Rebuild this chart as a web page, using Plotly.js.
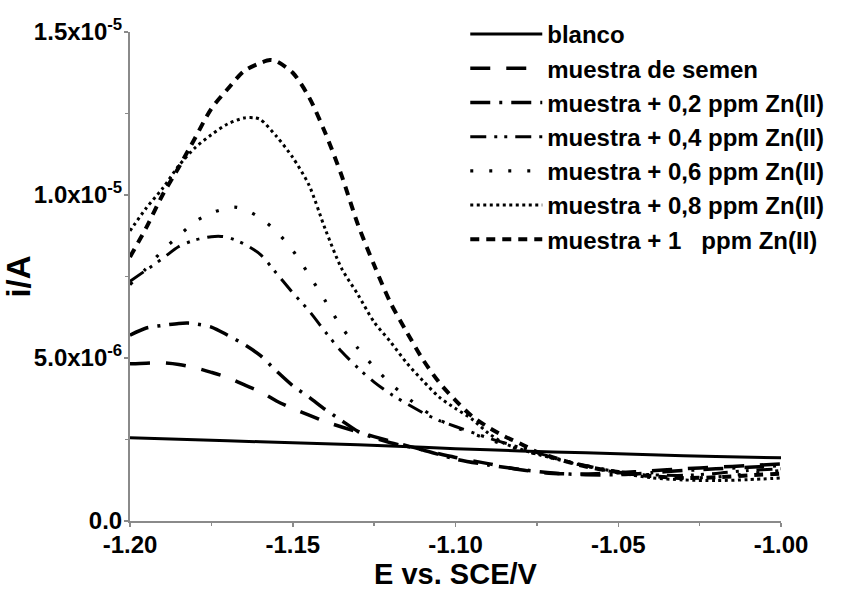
<!DOCTYPE html>
<html>
<head>
<meta charset="utf-8">
<script src="https://cdn.plot.ly/plotly-3.0.1.min.js"></script>
<style>html,body{margin:0;padding:0;background:#fff}#chart{width:844px;height:592px}</style>
</head>
<body>
<div id="chart"></div>
<script>
// ---- data ----
const seriesNames = ["blanco", "muestra de semen", "muestra + 0,2 ppm Zn(II)", "muestra + 0,4 ppm Zn(II)",
  "muestra + 0,6 ppm Zn(II)", "muestra + 0,8 ppm Zn(II)", "muestra + 1&#160;&#160;&#160;ppm Zn(II)"];

const xBlanco = [-1.200, -1.180, -1.160, -1.140, -1.120, -1.100, -1.080, -1.060, -1.040, -1.020, -1.000];
const yBlanco = [2.55e-6, 2.49e-6, 2.43e-6, 2.37e-6, 2.30e-6, 2.22e-6, 2.15e-6, 2.09e-6, 2.03e-6, 1.98e-6, 1.94e-6];

const xSemen = [-1.200, -1.195, -1.190, -1.185, -1.180, -1.175, -1.170, -1.165, -1.160, -1.155, -1.150, -1.145, -1.140,
  -1.130, -1.120, -1.110, -1.100, -1.090, -1.080, -1.070, -1.060, -1.050, -1.040, -1.030, -1.020, -1.010, -1.000];
const ySemen = [4.82e-6, 4.84e-6, 4.85e-6, 4.80e-6, 4.70e-6, 4.56e-6, 4.40e-6, 4.18e-6, 3.97e-6, 3.68e-6, 3.45e-6, 3.25e-6, 3.05e-6,
  2.73e-6, 2.45e-6, 2.18e-6, 1.95e-6, 1.76e-6, 1.57e-6, 1.46e-6, 1.44e-6, 1.48e-6, 1.54e-6, 1.60e-6, 1.65e-6, 1.70e-6, 1.75e-6];

const x02 = [-1.200, -1.195, -1.190, -1.185, -1.182, -1.180, -1.175, -1.170, -1.165, -1.160, -1.155, -1.150, -1.145, -1.140,
  -1.135, -1.130, -1.125, -1.120, -1.110, -1.100, -1.090, -1.080, -1.070, -1.060, -1.050, -1.040, -1.030, -1.020, -1.010, -1.000];
const y02 = [5.70e-6, 5.92e-6, 6.00e-6, 6.06e-6, 6.07e-6, 6.05e-6, 5.95e-6, 5.70e-6, 5.42e-6, 5.08e-6, 4.60e-6, 4.15e-6, 3.80e-6, 3.42e-6,
  3.08e-6, 2.75e-6, 2.55e-6, 2.40e-6, 2.18e-6, 1.90e-6, 1.72e-6, 1.58e-6, 1.47e-6, 1.42e-6, 1.42e-6, 1.48e-6, 1.55e-6, 1.60e-6, 1.65e-6, 1.70e-6];

const x04 = [-1.200, -1.195, -1.190, -1.185, -1.180, -1.175, -1.172, -1.170, -1.165, -1.160, -1.155, -1.150, -1.145, -1.140,
  -1.135, -1.130, -1.125, -1.120, -1.115, -1.110, -1.105, -1.100, -1.090, -1.080, -1.070, -1.060, -1.050, -1.040, -1.030, -1.020, -1.010, -1.000];
const y04 = [7.35e-6, 7.70e-6, 8.05e-6, 8.42e-6, 8.62e-6, 8.72e-6, 8.73e-6, 8.70e-6, 8.50e-6, 8.18e-6, 7.60e-6, 7.00e-6, 6.45e-6, 5.80e-6,
  5.20e-6, 4.70e-6, 4.26e-6, 3.90e-6, 3.60e-6, 3.32e-6, 3.08e-6, 2.90e-6, 2.55e-6, 2.25e-6, 1.95e-6, 1.70e-6, 1.52e-6, 1.42e-6, 1.40e-6, 1.46e-6, 1.55e-6, 1.60e-6];

const x06 = [-1.200, -1.195, -1.190, -1.185, -1.180, -1.175, -1.170, -1.168, -1.165, -1.160, -1.155, -1.150, -1.145, -1.140,
  -1.135, -1.130, -1.125, -1.120, -1.115, -1.110, -1.105, -1.100, -1.095, -1.090, -1.085, -1.080, -1.075, -1.070, -1.060, -1.050, -1.040, -1.030, -1.020, -1.010, -1.000];
const y06 = [7.25e-6, 7.75e-6, 8.30e-6, 8.75e-6, 9.18e-6, 9.45e-6, 9.60e-6, 9.63e-6, 9.57e-6, 9.30e-6, 8.88e-6, 8.30e-6, 7.55e-6, 6.75e-6,
  5.95e-6, 5.30e-6, 4.72e-6, 4.22e-6, 3.80e-6, 3.42e-6, 3.10e-6, 2.88e-6, 2.68e-6, 2.52e-6, 2.33e-6, 2.18e-6, 2.05e-6, 1.92e-6, 1.70e-6, 1.50e-6, 1.38e-6, 1.32e-6, 1.35e-6, 1.45e-6, 1.55e-6];

const x08 = [-1.200, -1.195, -1.190, -1.185, -1.180, -1.175, -1.170, -1.165, -1.162, -1.160, -1.155, -1.150, -1.145, -1.140,
  -1.135, -1.130, -1.125, -1.120, -1.115, -1.110, -1.105, -1.100, -1.095, -1.090, -1.085, -1.080, -1.075, -1.070, -1.060, -1.050, -1.040, -1.030, -1.020, -1.010, -1.000];
const y08 = [8.90e-6, 9.60e-6, 1.020e-5, 1.090e-5, 1.145e-5, 1.185e-5, 1.218e-5, 1.236e-5, 1.237e-5, 1.232e-5, 1.180e-5, 1.115e-5, 1.030e-5, 8.95e-6,
  7.75e-6, 6.95e-6, 6.10e-6, 5.50e-6, 4.85e-6, 4.30e-6, 3.80e-6, 3.45e-6, 3.13e-6, 2.70e-6, 2.38e-6, 2.20e-6, 2.05e-6, 1.92e-6, 1.68e-6, 1.48e-6, 1.33e-6, 1.26e-6, 1.24e-6, 1.27e-6, 1.32e-6];

const x1 = [-1.200, -1.195, -1.190, -1.185, -1.180, -1.175, -1.170, -1.165, -1.160, -1.157, -1.155, -1.150, -1.145, -1.140,
  -1.135, -1.130, -1.125, -1.120, -1.115, -1.110, -1.105, -1.100, -1.095, -1.090, -1.085, -1.080, -1.075, -1.070, -1.065, -1.060, -1.050, -1.040, -1.030, -1.020, -1.010, -1.000];
const y1 = [8.10e-6, 9.00e-6, 1.000e-5, 1.085e-5, 1.175e-5, 1.265e-5, 1.325e-5, 1.380e-5, 1.405e-5, 1.414e-5, 1.410e-5, 1.375e-5, 1.300e-5, 1.190e-5,
  1.060e-5, 9.10e-6, 7.85e-6, 6.70e-6, 5.80e-6, 4.95e-6, 4.25e-6, 3.70e-6, 3.22e-6, 2.88e-6, 2.60e-6, 2.37e-6, 2.12e-6, 1.95e-6, 1.80e-6, 1.67e-6, 1.50e-6, 1.38e-6, 1.32e-6, 1.34e-6, 1.40e-6, 1.45e-6];

const yTickVals = [0, 5e-6, 1e-5, 1.5e-5];
const yTickText = ["0.0", "5.0x10<sup>-6</sup>", "1.0x10<sup>-5</sup>", "1.5x10<sup>-5</sup>"];
const xTickVals = [-1.20, -1.15, -1.10, -1.05, -1.00];
const xTickText = ["-1.20", "-1.15", "-1.10", "-1.05", "-1.00"];

// ---- styles ----
const styles = [
  {dash: "solid", width: 3},
  {dash: "20px,16px", width: 3.5},
  {dash: "20px,9px,3px,9px", width: 3.5},
  {dash: "16px,8px,3px,7px,3px,8px", width: 3},
  {dash: "3px,16px", width: 3.2},
  {dash: "3px,3.5px", width: 3},
  {dash: "9px,7px", width: 4}
];
const xs = [xBlanco, xSemen, x02, x04, x06, x08, x1];
const ys = [yBlanco, ySemen, y02, y04, y06, y08, y1];

const traces = xs.map((x, i) => ({
  type: "scatter", mode: "lines", x: x, y: ys[i], name: seriesNames[i],
  line: {color: "#000", width: styles[i].width, dash: styles[i].dash, shape: "spline", smoothing: 0.8}
}));

const font = {family: "Liberation Sans, Arial, sans-serif", color: "#000", weight: "bold"};

const layout = {
  width: 844, height: 592,
  margin: {l: 130, r: 63, t: 32, b: 71},
  paper_bgcolor: "#fff", plot_bgcolor: "#fff",
  showlegend: true,
  legend: {x: 0.515, y: 1.041, xanchor: "left", yanchor: "top", bgcolor: "rgba(0,0,0,0)",
    font: Object.assign({}, font, {size: 24}), itemwidth: 72, tracegroupgap: 0},
  xaxis: {
    range: [-1.2, -1.0], tickvals: xTickVals, ticktext: xTickText,
    showgrid: false, zeroline: false, showline: true, linecolor: "#8a8a8a", linewidth: 2,
    ticks: "outside", ticklen: 4, tickcolor: "#8a8a8a", tickwidth: 1.5, ticklabelstandoff: -3,
    minor: {tickvals: [-1.175, -1.125, -1.075, -1.025], ticks: "outside", ticklen: 3, tickcolor: "#8a8a8a"},
    tickfont: Object.assign({}, font, {size: 24}),
    title: {text: "E vs. SCE/V", font: Object.assign({}, font, {size: 29}), standoff: 4}
  },
  yaxis: {
    range: [0, 1.5e-5], tickvals: yTickVals, ticktext: yTickText,
    showgrid: false, zeroline: false, showline: true, linecolor: "#8a8a8a", linewidth: 2,
    ticks: "outside", ticklen: 4, tickcolor: "#8a8a8a", tickwidth: 1.5, ticklabelstandoff: -3,
    minor: {tickvals: [2.5e-6, 7.5e-6, 1.25e-5], ticks: "outside", ticklen: 3, tickcolor: "#8a8a8a"},
    tickfont: Object.assign({}, font, {size: 24}),
    title: {text: "i/A", font: Object.assign({}, font, {size: 33}), standoff: 2}
  }
};

Plotly.newPlot("chart", traces, layout, {displayModeBar: false, staticPlot: true});
</script>
</body>
</html>
